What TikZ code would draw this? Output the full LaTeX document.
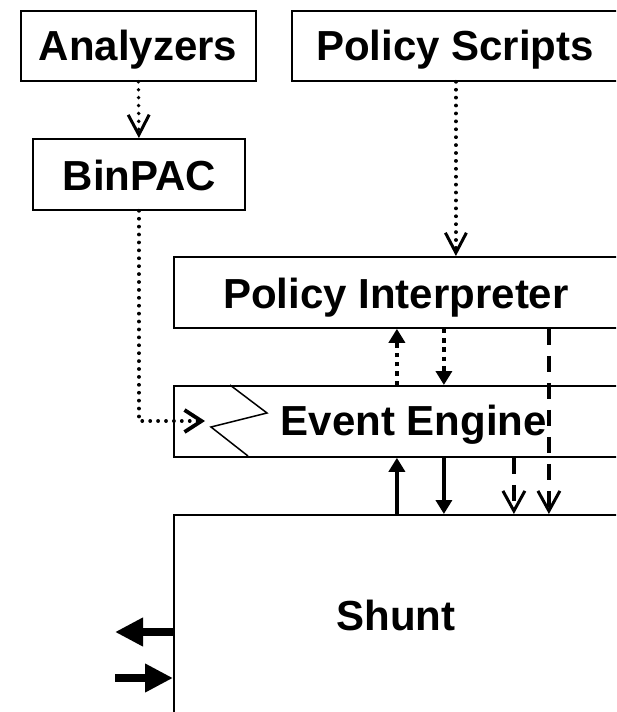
\documentclass[tikz,border=0pt]{standalone}
\usepackage{fontspec}
\setmainfont{Liberation Sans}
\usetikzlibrary{arrows.meta}
\begin{document}
\begin{tikzpicture}[x=1pt,y=-1pt,
  box/.style={draw, line width=1.8pt, rectangle, inner sep=0pt, anchor=north west},
  lbl/.style={anchor=base, inner sep=0pt, font=\fontsize{42}{50}\selectfont\bfseries},
  dotline/.style={line width=3.8pt, line cap=round, dash pattern=on 0.01pt off 7.9pt},
  vtip/.style={-{Straight Barb[length=20pt,width=21pt,line width=3pt]}},
  thickdot/.style={line width=4.2pt, dash pattern=on 4.5pt off 4.8pt, -{Triangle[length=14pt,width=16pt]}},
  solidarr/.style={line width=4pt, -{Triangle[length=14pt,width=16pt]}},
  dashline/.style={line width=3.5pt, dash pattern=on 16pt off 11pt, -{Straight Barb[length=20pt,width=22pt,line width=3pt]}},
  fat/.style={line width=8pt, -{Triangle[length=28pt,width=27pt]}}
]
\useasboundingbox (0,0) rectangle (616,712);
\clip (0,0) rectangle (616,712);
\fill[white] (0,0) rectangle (616,712);

% boxes
\node[box, minimum width=235pt, minimum height=70pt] (AN) at (20,10) {};
\node[box, minimum width=328pt, minimum height=70pt] (PS) at (291,10) {};
\node[box, minimum width=212pt, minimum height=71pt] (BP) at (32,138) {};
\node[box, minimum width=446pt, minimum height=71pt] (PI) at (173,256) {};
\node[box, minimum width=446pt, minimum height=71pt] (EE) at (173,385) {};
\node[box, minimum width=446pt, minimum height=300pt] (SH) at (173,514) {};

% labels
\node[lbl] (ANt) at (138,60) {Analyzers};
\node[lbl] (PSt) at (455,60) {Policy Scripts};
\node[lbl] (BPt) at (139.5,190) {BinPAC};
\node[lbl] (PIt) at (396,308) {Policy Interpreter};
\node[lbl] (EEt) at (414,435) {Event Engine};
\node[lbl] (SHt) at (396,630) {Shunt};

% zigzag inside event engine
\draw[line width=1.5pt] (230,385) -- (267,413) -- (211,427) -- (248,456);

% dotted connectors
\draw[dotline, vtip] (AN.south) -- (BP.north);
\draw[dotline, vtip] (PS.south) -- (PS.south |- PI.north);
\coordinate (eeIn) at (205,421);
\draw[dotline, -{Straight Barb[length=17pt,width=22pt,line width=3.8pt]}] (BP.south) |- (eeIn);

% between policy interpreter and event engine
\draw[thickdot] (EE.north) -- (PI.south);
\draw[thickdot] ([xshift=47pt]PI.south) -- ([xshift=47pt]EE.north);
\draw[dashline] ([xshift=152pt]PI.south) -- ([xshift=152pt]SH.north);

% between event engine and shunt
\draw[solidarr] (SH.north) -- (EE.south);
\draw[solidarr] ([xshift=47pt]EE.south) -- ([xshift=47pt]SH.north);
\draw[dashline] ([xshift=117pt]EE.south) -- ([xshift=117pt]SH.north);

% shunt side arrows
\coordinate (outL) at (115,632);
\coordinate (inL) at (115,678);
\draw[fat] (outL -| SH.west) -- (outL);
\draw[fat] (inL) -- (inL -| SH.west);
\end{tikzpicture}
\end{document}
